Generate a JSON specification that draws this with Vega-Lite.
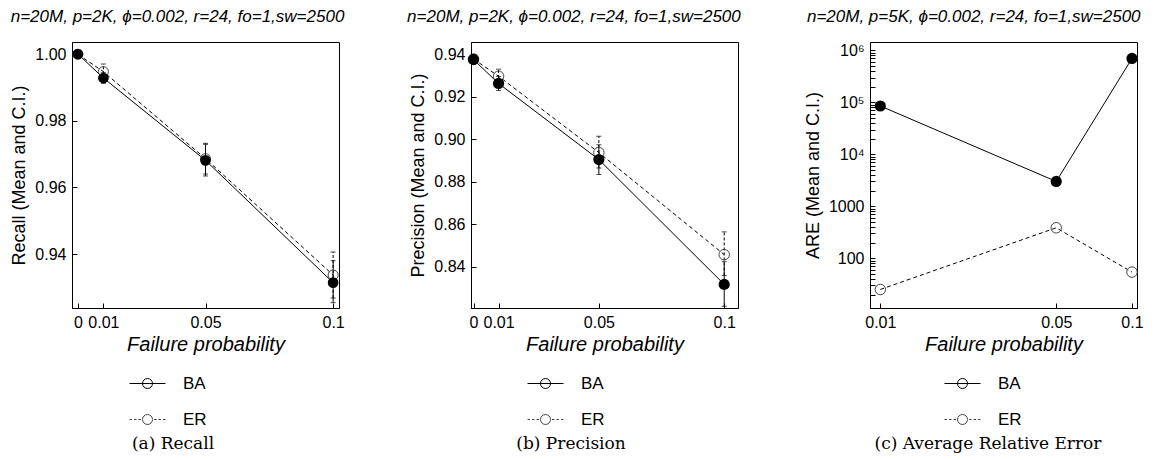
{
  "$schema": "https://vega.github.io/schema/vega-lite/v6.json",
  "background": "white",
  "padding": {"left": 10, "top": 7, "right": 5, "bottom": 5},
  "bounds": "flush",
  "spacing": 132,
  "resolve": {
    "scale": {"shape": "independent", "fill": "independent", "stroke": "independent"},
    "legend": {"shape": "independent", "fill": "independent", "stroke": "independent"}
  },
  "datasets": {
    "d": [
      {"panel": "recall", "series": "ER", "p": 0, "mean": 0.9999, "lo": 0.9999, "hi": 0.9999},
      {"panel": "recall", "series": "ER", "p": 0.01, "mean": 0.9947, "lo": 0.9924, "hi": 0.997},
      {"panel": "recall", "series": "ER", "p": 0.05, "mean": 0.9686, "lo": 0.964, "hi": 0.9732},
      {"panel": "recall", "series": "ER", "p": 0.1, "mean": 0.9337, "lo": 0.9268, "hi": 0.9406},
      {"panel": "recall", "series": "BA", "p": 0, "mean": 1.0, "lo": 1.0, "hi": 1.0},
      {"panel": "recall", "series": "BA", "p": 0.01, "mean": 0.9928, "lo": 0.9912, "hi": 0.9944},
      {"panel": "recall", "series": "BA", "p": 0.05, "mean": 0.9681, "lo": 0.9634, "hi": 0.9729},
      {"panel": "recall", "series": "BA", "p": 0.1, "mean": 0.9314, "lo": 0.9254, "hi": 0.938},
      {"panel": "precision", "series": "ER", "p": 0, "mean": 0.9378, "lo": 0.9378, "hi": 0.9378},
      {"panel": "precision", "series": "ER", "p": 0.01, "mean": 0.9297, "lo": 0.9265, "hi": 0.933},
      {"panel": "precision", "series": "ER", "p": 0.05, "mean": 0.8938, "lo": 0.8865, "hi": 0.9015},
      {"panel": "precision", "series": "ER", "p": 0.1, "mean": 0.8458, "lo": 0.836, "hi": 0.8565},
      {"panel": "precision", "series": "BA", "p": 0, "mean": 0.9375, "lo": 0.9375, "hi": 0.9375},
      {"panel": "precision", "series": "BA", "p": 0.01, "mean": 0.9263, "lo": 0.923, "hi": 0.9296},
      {"panel": "precision", "series": "BA", "p": 0.05, "mean": 0.8905, "lo": 0.8835, "hi": 0.8975},
      {"panel": "precision", "series": "BA", "p": 0.1, "mean": 0.8318, "lo": 0.8215, "hi": 0.8425},
      {"panel": "are", "series": "ER", "p": 0.01, "mean": 25, "lo": 25, "hi": 25},
      {"panel": "are", "series": "ER", "p": 0.05, "mean": 385, "lo": 385, "hi": 385},
      {"panel": "are", "series": "ER", "p": 0.1, "mean": 54, "lo": 54, "hi": 54},
      {"panel": "are", "series": "BA", "p": 0.01, "mean": 85000, "lo": 85000, "hi": 85000},
      {"panel": "are", "series": "BA", "p": 0.05, "mean": 3000, "lo": 3000, "hi": 3000},
      {"panel": "are", "series": "BA", "p": 0.1, "mean": 700000, "lo": 700000, "hi": 700000}
    ]
  },
  "hconcat": [
    {
      "width": 267,
      "height": 266,
      "title": {"text": "n=20M, p=2K, ϕ=0.002, r=24, fo=1,sw=2500"},
      "data": {"name": "d"},
      "transform": [{"filter": "datum.panel == 'recall'"}],
      "encoding": {
        "x": {"field": "p", "type": "quantitative", "scale": {"domain": [-0.0023, 0.1023], "nice": false, "zero": false},
          "axis": {"title": "Failure probability", "values": [0, 0.01, 0.05, 0.1], "format": "~g"}}
      },
      "layer": [
        {
          "transform": [{"filter": "datum.series == 'BA'"}],
          "mark": {"type": "rule", "color": "black", "strokeWidth": 1},
          "encoding": {
            "y": {"field": "lo", "type": "quantitative", "scale": {"domain": [0.9238, 1.0036], "nice": false, "zero": false},
              "axis": {"title": "Recall (Mean and C.I.)", "values": [0.94, 0.96, 0.98, 1.0], "format": ".2f"}},
            "y2": {"field": "hi"}
          }
        },
        {
          "transform": [{"filter": "datum.series == 'ER'"}],
          "mark": {"type": "rule", "color": "black", "strokeWidth": 1, "strokeDash": [3, 2]},
          "encoding": {"y": {"field": "lo", "type": "quantitative"}, "y2": {"field": "hi"}}
        },
        {
          "mark": {"type": "tick", "orient": "horizontal", "color": "black", "size": 5, "thickness": 1},
          "encoding": {"y": {"field": "lo", "type": "quantitative"}}
        },
        {
          "mark": {"type": "tick", "orient": "horizontal", "color": "black", "size": 5, "thickness": 1},
          "encoding": {"y": {"field": "hi", "type": "quantitative"}}
        },
        {
          "transform": [{"filter": "datum.series == 'BA'"}],
          "mark": {"type": "line", "color": "black", "strokeWidth": 1},
          "encoding": {"y": {"field": "mean", "type": "quantitative"}}
        },
        {
          "transform": [{"filter": "datum.series == 'ER'"}],
          "mark": {"type": "line", "color": "black", "strokeWidth": 1, "strokeDash": [4, 3]},
          "encoding": {"y": {"field": "mean", "type": "quantitative"}}
        },
        {
          "transform": [{"filter": "datum.series == 'ER'"}],
          "mark": {"type": "point", "filled": false, "color": "#444", "strokeWidth": 1, "size": 100, "opacity": 1},
          "encoding": {"y": {"field": "mean", "type": "quantitative"}}
        },
        {
          "transform": [{"filter": "datum.series == 'BA'"}],
          "mark": {"type": "circle", "color": "black", "size": 115, "opacity": 1},
          "encoding": {"y": {"field": "mean", "type": "quantitative"}}
        },
        {
          "mark": {"type": "point", "filled": true, "strokeWidth": 1, "opacity": 0},
          "encoding": {
            "y": {"field": "mean", "type": "quantitative"},
            "shape": {"field": "series", "type": "nominal",
              "scale": {"domain": ["BA", "ER"], "range": ["M-3.6,0H3.6M1,0A1,1,0,1,1,-1,0A1,1,0,1,1,1,0Z", "M-3.6,0H-3.1M-2.7,0H-2.2M-1.8,0H-1.3M1.3,0H1.8M2.2,0H2.7M3.1,0H3.6M1,0A1,1,0,1,1,-1,0A1,1,0,1,1,1,0Z"]},
              "legend": {"title": "(a) Recall", "orient": "none", "legendX": 60, "legendY": 333}},
            "fill": {"field": "series", "type": "nominal", "scale": {"domain": ["BA", "ER"], "range": ["black", "white"]},
              "legend": {"title": "(a) Recall", "orient": "none", "legendX": 60, "legendY": 333}},
            "stroke": {"field": "series", "type": "nominal", "scale": {"domain": ["BA", "ER"], "range": ["black", "#444"]},
              "legend": {"title": "(a) Recall", "orient": "none", "legendX": 60, "legendY": 333}}
          }
        }
      ]
    },
    {
      "width": 267,
      "height": 266,
      "title": {"text": "n=20M, p=2K, ϕ=0.002, r=24, fo=1,sw=2500"},
      "data": {"name": "d"},
      "transform": [{"filter": "datum.panel == 'precision'"}],
      "encoding": {
        "x": {"field": "p", "type": "quantitative", "scale": {"domain": [-0.001, 0.1055], "nice": false, "zero": false},
          "axis": {"title": "Failure probability", "values": [0, 0.01, 0.05, 0.1], "format": "~g"}}
      },
      "layer": [
        {
          "transform": [{"filter": "datum.series == 'BA'"}],
          "mark": {"type": "rule", "color": "black", "strokeWidth": 1},
          "encoding": {
            "y": {"field": "lo", "type": "quantitative", "scale": {"domain": [0.8207, 0.9458], "nice": false, "zero": false},
              "axis": {"title": "Precision (Mean and C.I.)", "values": [0.84, 0.86, 0.88, 0.9, 0.92, 0.94], "format": ".2f"}},
            "y2": {"field": "hi"}
          }
        },
        {
          "transform": [{"filter": "datum.series == 'ER'"}],
          "mark": {"type": "rule", "color": "black", "strokeWidth": 1, "strokeDash": [3, 2]},
          "encoding": {"y": {"field": "lo", "type": "quantitative"}, "y2": {"field": "hi"}}
        },
        {
          "mark": {"type": "tick", "orient": "horizontal", "color": "black", "size": 5, "thickness": 1},
          "encoding": {"y": {"field": "lo", "type": "quantitative"}}
        },
        {
          "mark": {"type": "tick", "orient": "horizontal", "color": "black", "size": 5, "thickness": 1},
          "encoding": {"y": {"field": "hi", "type": "quantitative"}}
        },
        {
          "transform": [{"filter": "datum.series == 'BA'"}],
          "mark": {"type": "line", "color": "black", "strokeWidth": 1},
          "encoding": {"y": {"field": "mean", "type": "quantitative"}}
        },
        {
          "transform": [{"filter": "datum.series == 'ER'"}],
          "mark": {"type": "line", "color": "black", "strokeWidth": 1, "strokeDash": [4, 3]},
          "encoding": {"y": {"field": "mean", "type": "quantitative"}}
        },
        {
          "transform": [{"filter": "datum.series == 'ER'"}],
          "mark": {"type": "point", "filled": false, "color": "#444", "strokeWidth": 1, "size": 110, "opacity": 1},
          "encoding": {"y": {"field": "mean", "type": "quantitative"}}
        },
        {
          "transform": [{"filter": "datum.series == 'BA'"}],
          "mark": {"type": "circle", "color": "black", "size": 125, "opacity": 1},
          "encoding": {"y": {"field": "mean", "type": "quantitative"}}
        },
        {
          "mark": {"type": "point", "filled": true, "strokeWidth": 1, "opacity": 0},
          "encoding": {
            "y": {"field": "mean", "type": "quantitative"},
            "shape": {"field": "series", "type": "nominal",
              "scale": {"domain": ["BA", "ER"], "range": ["M-3.6,0H3.6M1,0A1,1,0,1,1,-1,0A1,1,0,1,1,1,0Z", "M-3.6,0H-3.1M-2.7,0H-2.2M-1.8,0H-1.3M1.3,0H1.8M2.2,0H2.7M3.1,0H3.6M1,0A1,1,0,1,1,-1,0A1,1,0,1,1,1,0Z"]},
              "legend": {"title": "(b) Precision", "orient": "none", "legendX": 45, "legendY": 333}},
            "fill": {"field": "series", "type": "nominal", "scale": {"domain": ["BA", "ER"], "range": ["black", "white"]},
              "legend": {"title": "(b) Precision", "orient": "none", "legendX": 45, "legendY": 333}},
            "stroke": {"field": "series", "type": "nominal", "scale": {"domain": ["BA", "ER"], "range": ["black", "#444"]},
              "legend": {"title": "(b) Precision", "orient": "none", "legendX": 45, "legendY": 333}}
          }
        }
      ]
    },
    {
      "width": 267,
      "height": 266,
      "title": {"text": "n=20M, p=5K, ϕ=0.002, r=24, fo=1,sw=2500"},
      "data": {"name": "d"},
      "transform": [{"filter": "datum.panel == 'are'"}],
      "encoding": {
        "x": {"field": "p", "type": "quantitative", "scale": {"type": "log", "domain": [0.0091, 0.1047], "nice": false},
          "axis": {"title": "Failure probability", "values": [0.01, 0.05, 0.1], "format": "~g"}}
      },
      "layer": [
        {
          "transform": [{"filter": "datum.series == 'BA'"}],
          "mark": {"type": "line", "color": "black", "strokeWidth": 1},
          "encoding": {
            "y": {"field": "mean", "type": "quantitative", "scale": {"type": "log", "domain": [11, 1450000], "nice": false},
              "axis": {"title": "ARE (Mean and C.I.)", "labelOverlap": false,
                "values": [20, 30, 40, 50, 60, 70, 80, 90, 100, 200, 300, 400, 500, 600, 700, 800, 900, 1000, 2000, 3000, 4000, 5000, 6000, 7000, 8000, 9000, 10000, 20000, 30000, 40000, 50000, 60000, 70000, 80000, 90000, 100000, 200000, 300000, 400000, 500000, 600000, 700000, 800000, 900000, 1000000],
                "labelExpr": "datum.value == 1000000 ? '10⁶' : datum.value == 100000 ? '10⁵' : datum.value == 10000 ? '10⁴' : datum.value == 1000 ? '1000' : datum.value == 100 ? '100' : ''"}}
          }
        },
        {
          "transform": [{"filter": "datum.series == 'ER'"}],
          "mark": {"type": "line", "color": "black", "strokeWidth": 1, "strokeDash": [4, 3]},
          "encoding": {"y": {"field": "mean", "type": "quantitative"}}
        },
        {
          "transform": [{"filter": "datum.series == 'ER'"}],
          "mark": {"type": "point", "filled": false, "color": "#444", "strokeWidth": 1, "size": 110, "opacity": 1},
          "encoding": {"y": {"field": "mean", "type": "quantitative"}}
        },
        {
          "transform": [{"filter": "datum.series == 'BA'"}],
          "mark": {"type": "circle", "color": "black", "size": 125, "opacity": 1},
          "encoding": {"y": {"field": "mean", "type": "quantitative"}}
        },
        {
          "mark": {"type": "point", "filled": true, "strokeWidth": 1, "opacity": 0},
          "encoding": {
            "y": {"field": "mean", "type": "quantitative"},
            "shape": {"field": "series", "type": "nominal",
              "scale": {"domain": ["BA", "ER"], "range": ["M-3.6,0H3.6M1,0A1,1,0,1,1,-1,0A1,1,0,1,1,1,0Z", "M-3.6,0H-3.1M-2.7,0H-2.2M-1.8,0H-1.3M1.3,0H1.8M2.2,0H2.7M3.1,0H3.6M1,0A1,1,0,1,1,-1,0A1,1,0,1,1,1,0Z"]},
              "legend": {"title": "(c) Average Relative Error", "orient": "none", "legendX": 5, "legendY": 333}},
            "fill": {"field": "series", "type": "nominal", "scale": {"domain": ["BA", "ER"], "range": ["black", "white"]},
              "legend": {"title": "(c) Average Relative Error", "orient": "none", "legendX": 5, "legendY": 333}},
            "stroke": {"field": "series", "type": "nominal", "scale": {"domain": ["BA", "ER"], "range": ["black", "#444"]},
              "legend": {"title": "(c) Average Relative Error", "orient": "none", "legendX": 5, "legendY": 333}}
          }
        }
      ]
    }
  ],
  "config": {
    "font": "Liberation Sans",
    "view": {"stroke": "black", "strokeWidth": 1},
    "axis": {"grid": false, "domainColor": "black", "tickColor": "black", "labelColor": "black", "titleColor": "black",
      "labelFont": "Liberation Sans", "titleFont": "Liberation Sans", "labelFontSize": 16, "titleFontWeight": "normal",
      "tickSize": -5, "labelPadding": 11},
    "axisX": {"titleFontSize": 20, "titleFontStyle": "italic", "titlePadding": 4, "labelFlush": false},
    "axisY": {"titleFontSize": 18, "titlePadding": 6},
    "legend": {"direction": "vertical", "padding": 0, "labelFont": "Liberation Sans", "labelFontSize": 17, "labelColor": "black",
      "titleFont": "DejaVu Serif", "titleFontSize": 17, "titleFontWeight": "normal", "titleColor": "black",
      "titleOrient": "bottom", "titleAnchor": "middle", "titleAlign": "center", "titlePadding": 8, "titleLimit": 400,
      "rowPadding": 18, "symbolSize": 100, "symbolStrokeWidth": 1, "labelOffset": 27},
    "title": {"font": "Liberation Sans", "fontSize": 17, "fontStyle": "italic", "fontWeight": "normal", "color": "black",
      "anchor": "middle", "frame": "bounds", "offset": 16}
  }
}
